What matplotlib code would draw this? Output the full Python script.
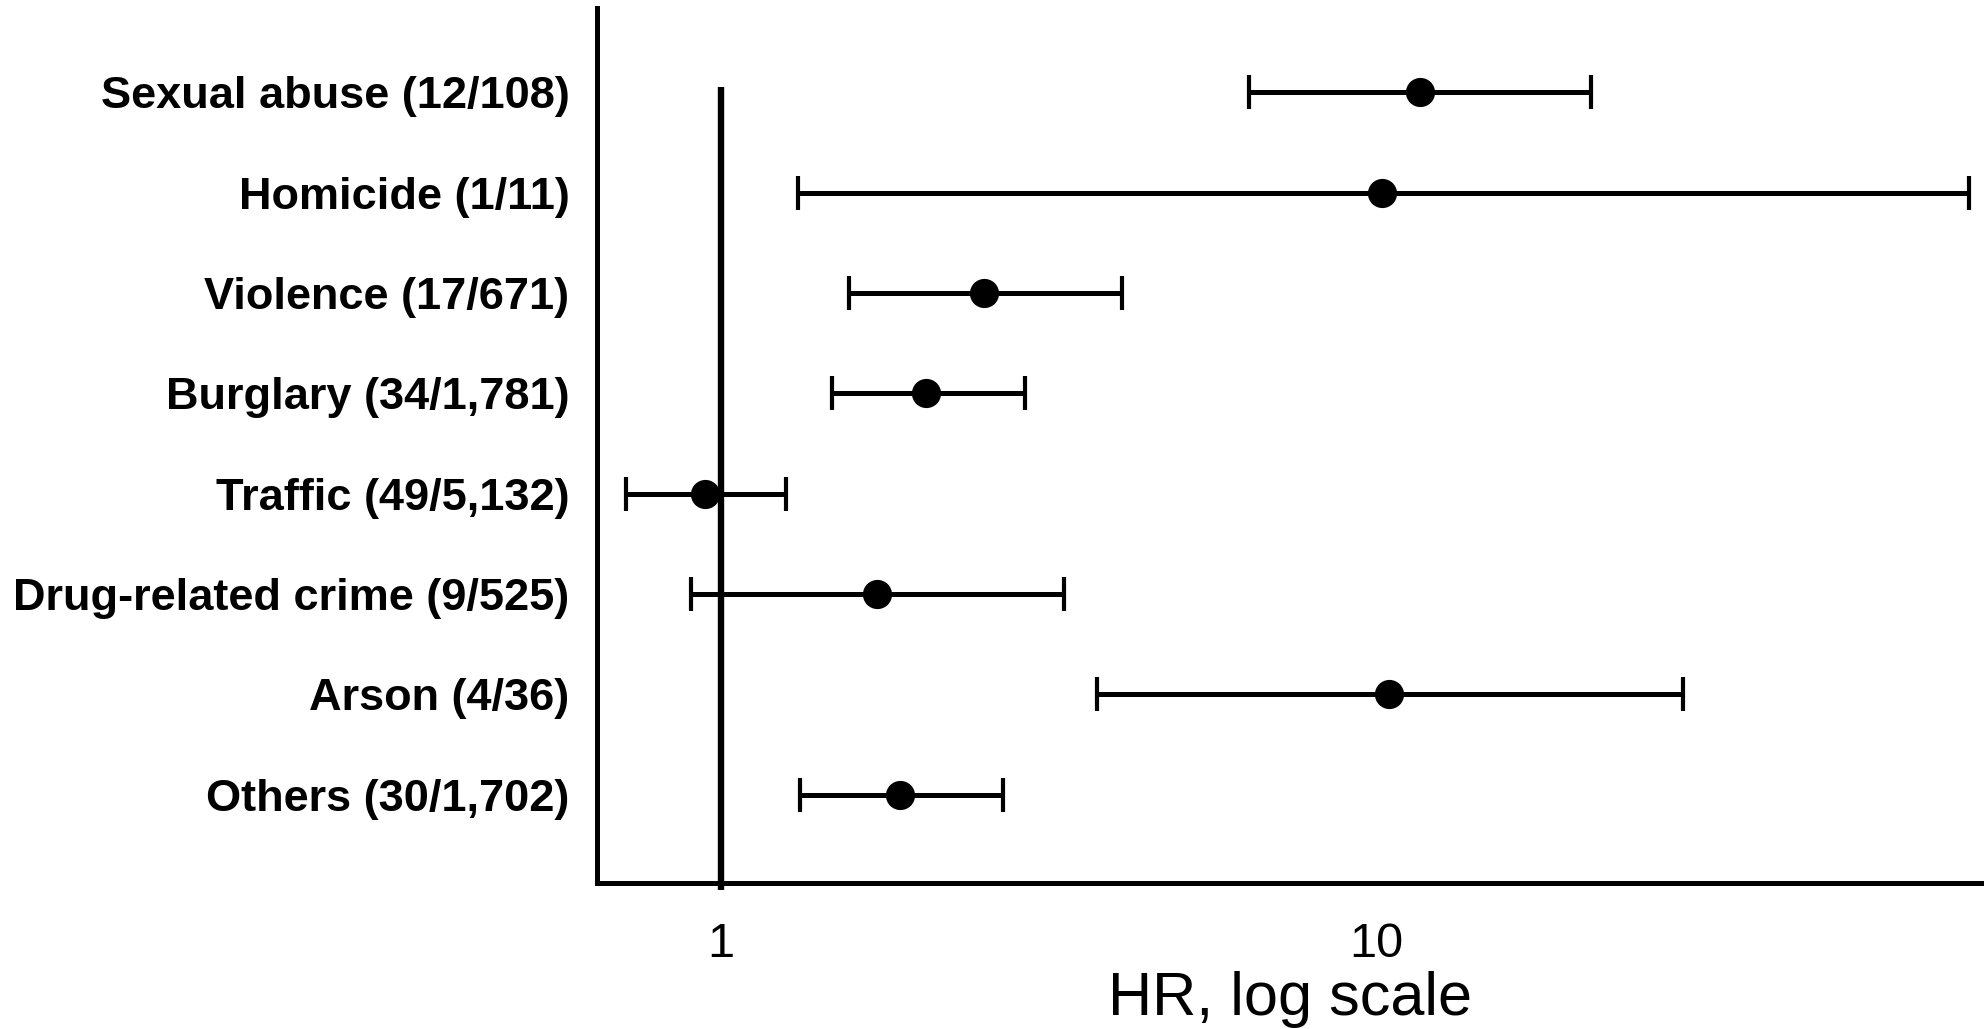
import numpy as np
import matplotlib
matplotlib.use("Agg")
import matplotlib.pyplot as plt

plt.rcParams['font.family'] = ['Liberation Sans', 'DejaVu Sans']

labels = ["Sexual abuse (12/108)", "Homicide (1/11)", "Violence (17/671)",
          "Burglary (34/1,781)", "Traffic (49/5,132)", "Drug-related crime (9/525)",
          "Arson (4/36)", "Others (30/1,702)"]
hr = [11.67, 10.2, 2.52, 2.06, 0.947, 1.73, 10.45, 1.88]
ci_low = [6.41, 1.31, 1.57, 1.48, 0.717, 0.90, 3.75, 1.32]
ci_high = [21.3, 80.2, 4.10, 2.91, 1.26, 3.34, 29.4, 2.70]
xticks = [1, 10]

hr = np.array(hr)
err = np.vstack([hr - np.array(ci_low), np.array(ci_high) - hr])
y = np.arange(len(labels))

fig = plt.figure(figsize=(19.84, 10.29), dpi=100)
ax = fig.add_axes([0.301, 0.142, 0.698, 0.850])

ax.errorbar(hr, y, xerr=err, fmt='o', color='black', ms=20, elinewidth=3.6,
            capsize=12, capthick=3, zorder=3)

ax.set_xscale('log')
ax.set_xlim(0.648, 84.1)
ax.set_ylim(7.88, -0.837)
ax.vlines(1, -0.05, 7.95, color='black', lw=4.6, clip_on=False, zorder=2)

ax.set_xticks(xticks)
ax.set_xticklabels([str(t) for t in xticks])
ax.xaxis.set_minor_locator(matplotlib.ticker.NullLocator())
ax.set_yticks(y)
ax.set_yticklabels(labels, fontweight='bold')
ax.tick_params(axis='y', length=0, pad=20, labelsize=32.5)
ax.tick_params(axis='x', length=0, pad=28, labelsize=35)
ax.set_xlabel("HR, log scale", fontsize=44, labelpad=3)

for s in ['top', 'right']:
    ax.spines[s].set_visible(False)
for s in ['left', 'bottom']:
    ax.spines[s].set_linewidth(3.6)

fig.savefig("out.png", dpi=100)
